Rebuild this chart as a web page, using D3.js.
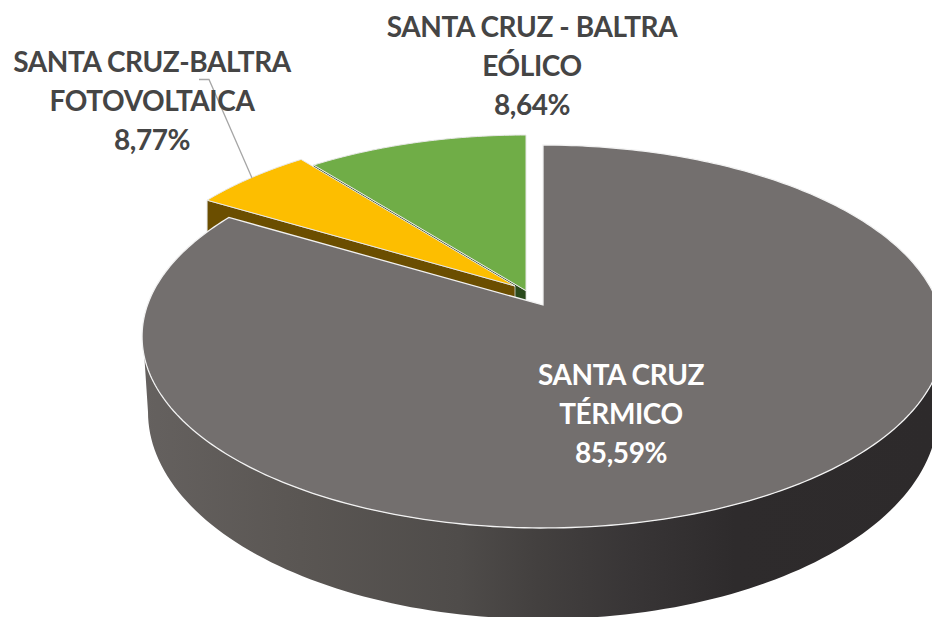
<!DOCTYPE html>
<html><head><meta charset="utf-8">
<script src="https://cdn.jsdelivr.net/npm/d3@7"></script>
<style>html,body{margin:0;padding:0;background:#fff}svg{display:block}
text{font-family:Lato,"Open Sans",sans-serif;font-weight:700;letter-spacing:-.4px}</style></head>
<body><svg id="c" width="932" height="617"></svg>
<script>
// Slice shares as drawn in the picture (the printed labels differ from the drawn geometry)
const categories = ["SANTA CRUZ TÉRMICO", "SANTA CRUZ-BALTRA FOTOVOLTAICA", "SANTA CRUZ - BALTRA EÓLICO"];
const sliceShares = [83.5, 5.8, 10.7];
const printedLabels = ["85,59%", "8,77%", "8,64%"];
const labelLines = [["SANTA CRUZ", "TÉRMICO"], ["SANTA CRUZ-BALTRA", "FOTOVOLTAICA"], ["SANTA CRUZ - BALTRA", "EÓLICO"]];
const topColors = ["#736F6E", "#FDBE00", "#70AD47"];
const wallColors = ["#5a5654", "#6B4E00", "#2A4A1C"];
const apexes = [[543, 305, 1], [515, 286, .98], [526, 290.7, .973]];
const labelPos = [[621, 375, "#ffffff"], [152, 62, "#454545"], [532, 27, "#454545"]];

const svg = d3.select("#c");
const A = 395.5, B = 186.3, K = .1645;
const pie = d3.pie().sort(null).startAngle(0).endAngle(2 * Math.PI);
const arcs = pie(sliceShares);
const line = d3.line();

function proj(i, t, r = 1) {
  const [cx, cy, s] = apexes[i];
  const u = r * Math.sin(t), v = r * Math.cos(t), d = 1 + K * v;
  return [cx + s * A * u / d, cy - s * B * v / d];
}
function rim(i, a0, a1) {
  const n = Math.max(2, Math.ceil(Math.abs(a1 - a0) * 60));
  return d3.range(n + 1).map(j => proj(i, a0 + (a1 - a0) * j / n));
}
const deg = Math.PI / 180;

// gradient for outer side
const defs = svg.append("defs");
const grad = defs.append("linearGradient").attr("id", "side")
  .attr("gradientUnits", "userSpaceOnUse").attr("x1", 143).attr("x2", 932).attr("y1", 0).attr("y2", 0);
[[0, "#65615f"], [.2, "#5a5653"], [.4, "#4f4c4a"], [.5, "#43403f"], [.62, "#383536"], [.75, "#2e2b2c"], [1, "#2d2a2b"]]
  .forEach(([o, c]) => grad.append("stop").attr("offset", o).attr("stop-color", c));

const drop = 45;
// green then yellow: wall along the slice's start edge, then top
[2, 1].forEach(i => {
  const a = arcs[i];
  const p0 = proj(i, a.startAngle), ap = apexes[i];
  svg.append("path").attr("fill", wallColors[i]).attr("stroke", "#d8d8d8").attr("stroke-width", .8)
    .attr("d", line([p0, [ap[0], ap[1]], [ap[0], ap[1] + drop], [p0[0], p0[1] + drop]]) + "Z");
  svg.append("path").attr("fill", topColors[i]).attr("stroke", "#e8e8e8").attr("stroke-width", 1)
    .attr("d", line([[ap[0], ap[1]], ...rim(i, a.startAngle, a.endAngle)]) + "Z");
});

// gray outer side
const bottom = φ => [543 + 395 * Math.sin(φ), 412 - 207 * Math.cos(φ)];
const topFront = rim(0, 105 * deg, 254.5 * deg);
const botFront = d3.range(90, 270.5, 1.5).map(d => bottom(d * deg)).reverse();
svg.append("path").attr("fill", "url(#side)").attr("d", line([...topFront, ...botFront]) + "Z");

// gray top
const g = arcs[0];
svg.append("path").attr("fill", topColors[0]).attr("stroke", "#f2f2f2").attr("stroke-width", 1.3)
  .attr("d", line([[apexes[0][0], apexes[0][1]], ...rim(0, g.startAngle, g.endAngle)]) + "Z");

// leader
svg.append("path").attr("fill", "none").attr("stroke", "#a6a6a6").attr("stroke-width", 1.3)
  .attr("d", line([[199, 79.5], [209, 79.5], [252, 178]]));

// labels
labelLines.forEach((ls, i) => {
  const [x, y, col] = labelPos[i];
  const t = svg.append("text").attr("text-anchor", "middle").attr("fill", col).attr("font-size", 28);
  [...ls, printedLabels[i]].forEach((s, j) => t.append("tspan").attr("x", x).attr("y", y + j * 39).attr("dy", ".35em").text(s));
});
</script></body></html>
